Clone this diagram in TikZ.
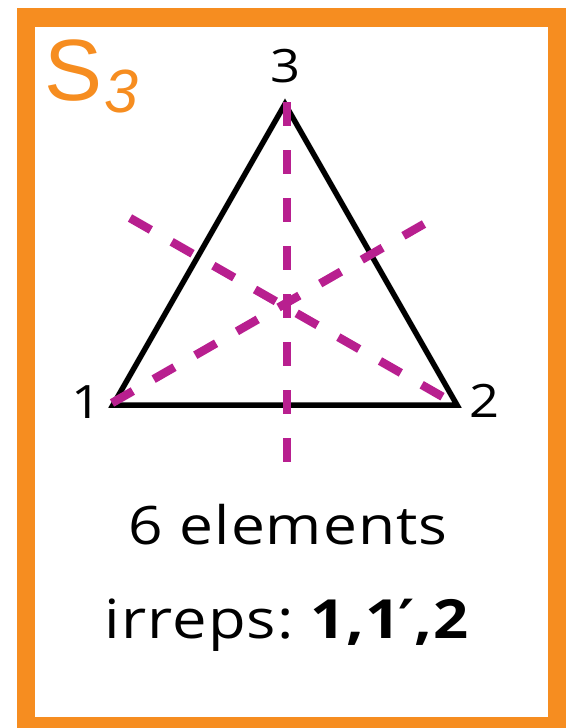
\documentclass[tikz,border=0pt]{standalone}
\usepackage{fontspec}
\setmainfont{Open Sans}
\newfontfamily\labelfont{Liberation Sans}
\newfontfamily\cardfont[FakeStretch=1.14, LetterSpace=2]{Open Sans}
\newfontfamily\primefont[FakeStretch=1.14]{DejaVu Sans}
\definecolor{cardorange}{HTML}{F68D20}
\definecolor{mirrorpink}{HTML}{B81F8F}
\definecolor{edgeink}{HTML}{000000}

\begin{document}
\begin{tikzpicture}[
  x=1pt,
  y=-1pt,
  every node/.style={inner sep=0pt, text=edgeink},
  mirror/.style={mirrorpink, line width=8.5pt, dash pattern=on 24pt off 24pt},
  edge/.style={edgeink, line width=5.5pt, line join=miter}
]
  \useasboundingbox (0,0) rectangle (577,728);
  \clip (0,0) rectangle (577,728);
  \draw[cardorange, line width=18.5pt] (26,17.5) rectangle (557,726.5);

  \coordinate (v1) at (113,405);
  \coordinate (v2) at (457,405);
  \coordinate (v3) at (285,104);
  \coordinate (a1) at (112,403);
  \coordinate (a2) at (424,224);
  \coordinate (b1) at (130,218);
  \coordinate (b2) at (443,397);
  \coordinate (c1) at (287,102);
  \coordinate (c2) at (287,462);

  \draw[edge] (v1) -- (v2) -- (v3) -- cycle;
  \draw[mirror] (c1) -- (c2);
  \draw[mirror] (a1) -- (a2);
  \draw[mirror] (b1) -- (b2);

  \node (n3) at (285,66) {\cardfont\fontsize{46}{50}\selectfont 3};
  \node (n1) at (86,402) {\cardfont\fontsize{46}{50}\selectfont 1};
  \node (n2) at (484,401) {\cardfont\fontsize{46}{50}\selectfont 2};

  \node[anchor=base west, text=cardorange] (sname) at (44,100) {\labelfont\fontsize{87}{90}\selectfont S};
  \node[anchor=base west, text=cardorange] (sindex) at (104,112) {\labelfont\itshape\fontsize{61}{64}\selectfont 3};

  \node[anchor=base] (order) at (288,544) {\cardfont\fontsize{53}{60}\selectfont 6 elements};
  \node[anchor=base] (irreps) at (287,638) {\cardfont\fontsize{54}{60}\selectfont irreps:\kern-6pt{} \textbf{1,1{\primefont\bfseries\kern-2pt ′\kern-1pt},2}};
\end{tikzpicture}
\end{document}
